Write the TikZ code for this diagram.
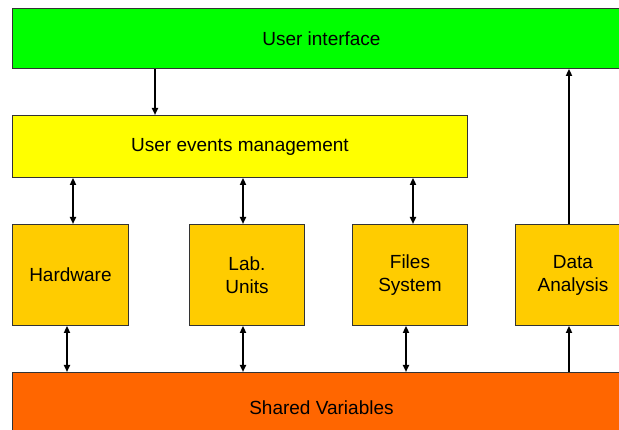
\documentclass[tikz,border=0pt]{standalone}
\usepackage{fontspec}
\setmainfont{Liberation Sans}
\usetikzlibrary{arrows.meta}
\definecolor{uigreen}{HTML}{00FF00}
\definecolor{evyellow}{HTML}{FFFF00}
\definecolor{modgold}{HTML}{FFCC00}
\definecolor{sharedorange}{HTML}{FF6600}
\definecolor{edge}{HTML}{333333}
\begin{document}
\begin{tikzpicture}[x=1pt,y=-1pt,
  box/.style={draw=edge,line width=0.9pt,rectangle,inner sep=0pt,anchor=north west,
    align=center,font=\fontsize{19}{23}\selectfont},
  modbox/.style={box,fill=modgold,minimum width=115pt,minimum height=101pt},
  arr/.style={line width=2.1pt,-{Triangle[length=7pt,width=6pt]}},
  darr/.style={line width=2.1pt,{Triangle[length=7pt,width=6pt]}-{Triangle[length=7pt,width=6pt]}}]
\useasboundingbox (0,0) rectangle (619,430);
\clip (0,0) rectangle (619,430);
\fill[white] (0,0) rectangle (619,430);

% layers
\node[box,fill=uigreen,minimum width=618pt,minimum height=60pt] (ui) at (12,8) {User interface};
\node[box,fill=evyellow,minimum width=455pt,minimum height=62pt] (uem) at (12,115) {User events management};
\node[modbox,minimum width=116pt] (hw) at (12,224) {Hardware};
\node[modbox] (lab) at (189,224) {Lab.\\Units};
\node[modbox] (fs) at (352,224) {Files\\System};
\node[modbox] (da) at (515,224) {Data\\Analysis};
\node[box,fill=sharedorange,minimum width=618pt,minimum height=70pt] (sv) at (12,372) {Shared Variables};

% connector columns
\coordinate (cUI) at (155,0);
\coordinate (cHWt) at (73,0);
\coordinate (cHWb) at (67,0);
\coordinate (cLAB) at (243,0);
\coordinate (cFSt) at (413,0);
\coordinate (cFSb) at (406,0);
\coordinate (cDA) at (569,0);

% connectors
\draw[arr] (ui.south -| cUI) -- (uem.north -| cUI);
\draw[darr] (uem.south -| cHWt) -- (hw.north -| cHWt);
\draw[darr] (uem.south -| cLAB) -- (lab.north -| cLAB);
\draw[darr] (uem.south -| cFSt) -- (fs.north -| cFSt);
\draw[arr] (da.north -| cDA) -- (ui.south -| cDA);
\draw[darr] (hw.south -| cHWb) -- (sv.north -| cHWb);
\draw[darr] (lab.south -| cLAB) -- (sv.north -| cLAB);
\draw[darr] (fs.south -| cFSb) -- (sv.north -| cFSb);
\draw[arr] (sv.north -| cDA) -- (da.south -| cDA);
\end{tikzpicture}
\end{document}
